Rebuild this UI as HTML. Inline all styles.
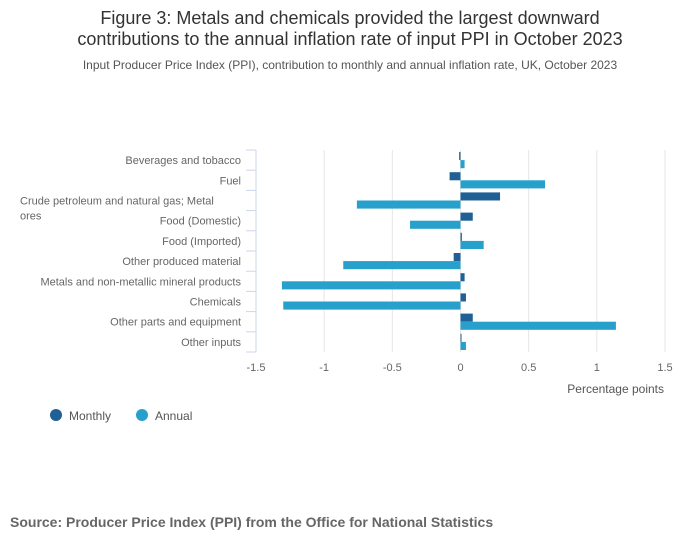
<!DOCTYPE html>
<html><head><meta charset="utf-8"><style>
body{margin:0;background:#fff;width:700px;height:549px;overflow:hidden;font-family:"Liberation Sans",sans-serif}
</style></head><body>
<svg width="700" height="549" id="chart" xmlns="http://www.w3.org/2000/svg" font-family="Liberation Sans, sans-serif">
<text x="350" y="24" text-anchor="middle" font-size="18" fill="#333">Figure 3: Metals and chemicals provided the largest downward</text>
<text x="350" y="45" text-anchor="middle" font-size="18" fill="#333">contributions to the annual inflation rate of input PPI in October 2023</text>
<text x="350" y="69" text-anchor="middle" font-size="12" fill="#555">Input Producer Price Index (PPI), contribution to monthly and annual inflation rate, UK, October 2023</text>
<g id="grid"></g><g id="bars"></g><g id="labels"></g>
<text x="664" y="393" text-anchor="end" font-size="12" fill="#555">Percentage points</text>
<circle cx="56" cy="415" r="6" fill="#206095"/>
<text x="69" y="420" font-size="12" fill="#555">Monthly</text>
<circle cx="142" cy="415" r="6" fill="#27a0cc"/>
<text x="155" y="420" font-size="12" fill="#555">Annual</text>
<text x="10" y="527" font-size="14" font-weight="bold" fill="#666">Source: Producer Price Index (PPI) from the Office for National Statistics</text>
</svg>
<script>
const categories=["Beverages and tobacco","Fuel","Crude petroleum and natural gas; Metal ores","Food (Domestic)","Food (Imported)","Other produced material","Metals and non-metallic mineral products","Chemicals","Other parts and equipment","Other inputs"];
const monthly=[-0.01,-0.08,0.29,0.09,0.01,-0.05,0.03,0.04,0.09,0.005];
const annual=[0.03,0.62,-0.76,-0.37,0.17,-0.86,-1.31,-1.30,1.14,0.04];
const ticks=[-1.5,-1,-0.5,0,0.5,1,1.5];
const tickLabels=["-1.5","-1","-0.5","0","0.5","1","1.5"];
const NS="http://www.w3.org/2000/svg";
const x0=256,x1=665,vmin=-1.5,vmax=1.5,yTop=150,yBottom=352;
const band=(yBottom-yTop)/categories.length;
function xs(v){return x0+(v-vmin)/(vmax-vmin)*(x1-x0);}
function ys(i){return yTop+i*band;}
function mk(t,a,p){const e=document.createElementNS(NS,t);for(const k in a)e.setAttribute(k,a[k]);document.getElementById(p).appendChild(e);return e;}
ticks.forEach((t,i)=>{
  if(i>0){const g=mk('line',{x1:xs(t),x2:xs(t),y1:yTop,y2:yBottom,stroke:'#e6e6e6','stroke-width':1},'grid');
  
  }
  const l=mk('text',{x:xs(t),y:371,'text-anchor':'middle','font-size':11,fill:'#666'},'labels');
  l.textContent=tickLabels[i];
  
  
});
const ax=mk('line',{x1:x0,x2:x0,y1:yTop,y2:yBottom,stroke:'#ccd6eb','stroke-width':1},'grid');


for(let i=0;i<=categories.length;i++){
  const tk=mk('line',{x1:x0-10,x2:x0,y1:ys(i),y2:ys(i),stroke:'#ccd6eb','stroke-width':1},'grid');
  
  
}
const bh=(band-4)/2;
categories.forEach((c,i)=>{
  const y=ys(i)+2;
  [[monthly[i],'#206095',y,'bar-monthly'],[annual[i],'#27a0cc',y+bh,'bar-annual']].forEach(([v,col,yy,nm])=>{
    const a=xs(Math.min(0,v)),b=xs(Math.max(0,v));
    const r=mk('rect',{x:a,y:yy,width:Math.max(b-a,1),height:bh,fill:col},'bars');
    
    
  });
  const cy=ys(i)+band/2+4;
  if(c.length>40){
    const t1=mk('text',{x:20,y:cy,'font-size':11,fill:'#666'},'labels');t1.textContent="Crude petroleum and natural gas; Metal";
    
    
    const t2=mk('text',{x:20,y:cy+15,'font-size':11,fill:'#666'},'labels');t2.textContent="ores";
    
    
  } else {
    const t=mk('text',{x:241,y:cy,'text-anchor':'end','font-size':11,fill:'#666'},'labels');t.textContent=c;
    
    
  }
});
</script>
</body></html>
